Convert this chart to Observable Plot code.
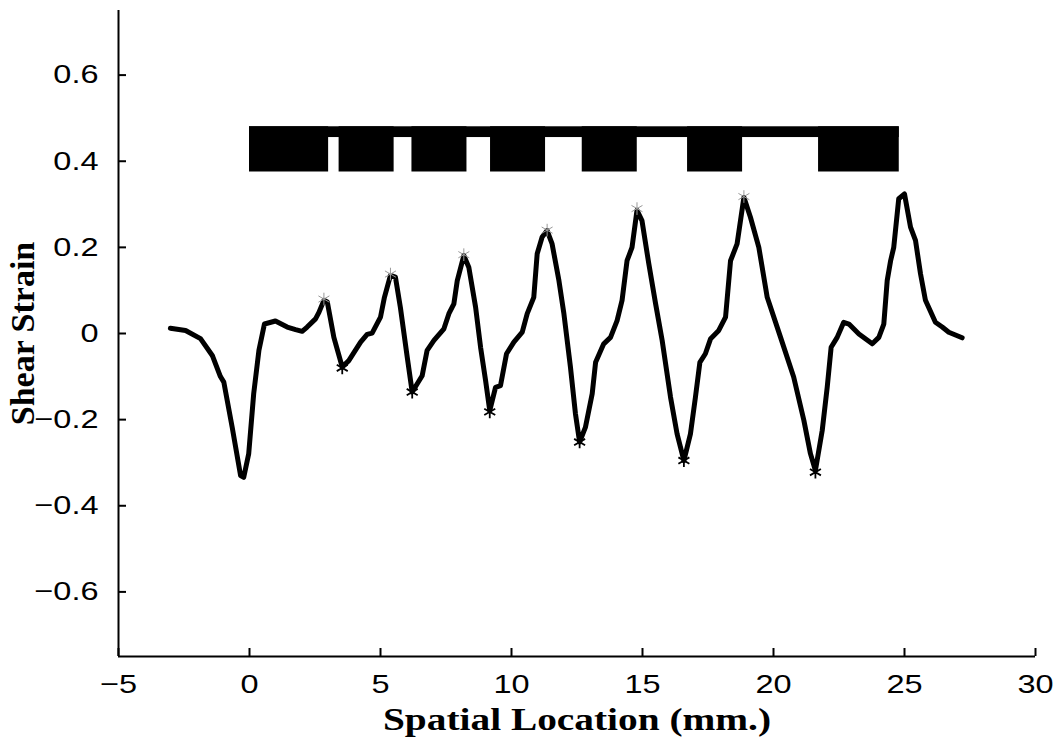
<!DOCTYPE html>
<html>
<head>
<meta charset="utf-8">
<script src="https://cdn.jsdelivr.net/npm/d3@7"></script>
<script src="https://cdn.jsdelivr.net/npm/@observablehq/plot@0.6"></script>
<style>
  html, body { margin: 0; padding: 0; background: #fff; }
</style>
</head>
<body>
<div id="chart"></div>
<script>
// Strain profile (mm, shear strain)
const locX = [-3.02,-2.44,-1.87,-1.42,-1.11,-0.98,-0.66,-0.34,-0.22,-0.03,0.16,0.36,0.57,0.99,1.44,1.76,2.01,2.20,2.52,2.65,2.84,2.97,3.22,3.54,3.79,4.24,4.49,4.68,5.0,5.15,5.38,5.57,5.76,6.02,6.21,6.59,6.78,7.04,7.42,7.61,7.80,7.93,8.18,8.37,8.63,8.82,9.01,9.17,9.39,9.58,9.81,10.09,10.41,10.60,10.85,10.98,11.17,11.36,11.55,11.81,12.0,12.25,12.44,12.60,12.82,13.08,13.21,13.52,13.78,14.03,14.22,14.41,14.60,14.79,14.98,15.24,15.50,15.75,16.07,16.32,16.58,16.83,17.02,17.19,17.40,17.60,17.91,18.17,18.36,18.61,18.74,18.87,19.12,19.44,19.76,20.27,20.77,21.16,21.41,21.60,21.86,22.05,22.20,22.43,22.68,22.88,23.26,23.77,24.02,24.21,24.34,24.47,24.59,24.78,25.0,25.23,25.42,25.61,25.80,26.18,26.44,26.69,27.20];
const strain = [0.012,0.007,-0.012,-0.051,-0.10,-0.113,-0.218,-0.330,-0.334,-0.279,-0.14,-0.039,0.022,0.029,0.015,0.009,0.005,0.015,0.034,0.049,0.077,0.073,-0.009,-0.078,-0.063,-0.020,-0.002,0.001,0.038,0.084,0.135,0.131,0.06,-0.055,-0.136,-0.098,-0.039,-0.016,0.011,0.046,0.069,0.123,0.181,0.154,0.061,-0.032,-0.109,-0.179,-0.125,-0.121,-0.047,-0.020,0.003,0.046,0.084,0.185,0.224,0.239,0.208,0.123,0.046,-0.078,-0.186,-0.252,-0.218,-0.14,-0.067,-0.024,-0.009,0.030,0.077,0.169,0.200,0.286,0.262,0.162,0.069,-0.016,-0.148,-0.233,-0.295,-0.233,-0.148,-0.067,-0.047,-0.012,0.007,0.038,0.169,0.208,0.262,0.316,0.270,0.200,0.084,-0.009,-0.101,-0.202,-0.279,-0.318,-0.225,-0.125,-0.032,-0.009,0.026,0.022,-0.001,-0.024,-0.009,0.022,0.123,0.169,0.200,0.313,0.324,0.247,0.216,0.139,0.077,0.026,0.015,0.003,-0.010];

// Detected extrema
const peakX = [2.84, 5.38, 8.18, 11.36, 14.79, 18.87];
const peakY = [0.080, 0.138, 0.183, 0.240, 0.290, 0.318];
const troughX = [3.54, 6.21, 9.17, 12.60, 16.58, 21.60];
const troughY = [-0.080, -0.136, -0.182, -0.252, -0.295, -0.322];

// Electrode pattern (top bar)
const stripStart = 0, stripEnd = 24.8, stripLow = 0.455, stripHigh = 0.48;
const blockStart = [0, 3.42, 6.2, 9.2, 12.7, 16.72, 21.72];
const blockEnd   = [3.02, 5.52, 8.3, 11.3, 14.8, 18.82, 24.8];
const blockLow = 0.375, blockHigh = 0.48;

const xTicks = [-5, 0, 5, 10, 15, 20, 25, 30];
const yTicks = [-0.6, -0.4, -0.2, 0, 0.2, 0.4, 0.6];
const xLabel = "Spatial Location (mm.)";
const yLabel = "Shear Strain";

const curve = locX.map((x, i) => ({x, y: strain[i]}));
const peaks = peakX.map((x, i) => ({x, y: peakY[i]}));
const troughs = troughX.map((x, i) => ({x, y: troughY[i]}));
const blocks = blockStart.map((s, i) => ({x1: s, x2: blockEnd[i], y1: blockLow, y2: blockHigh}));
const strip = [{x1: stripStart, x2: stripEnd, y1: stripLow, y2: stripHigh}];

const fmt = d => (d === 0 ? "0" : String(d)).replace("-", "\u2212");

const W = 1056, H = 738, mL = 118, mR = 21, mT = 10, mB = 82;
const tickLen = 8;

const chart = Plot.plot({
  width: W,
  height: H,
  marginLeft: mL,
  marginRight: mR,
  marginTop: mT,
  marginBottom: mB,
  style: {fontFamily: "'Liberation Sans', Arial, sans-serif", fontSize: "26px", background: "#fff", color: "#000"},
  x: {domain: [-5, 30]},
  y: {domain: [-0.75, 0.75]},
  marks: [
    Plot.rect(strip, {x1: "x1", x2: "x2", y1: "y1", y2: "y2", fill: "black"}),
    Plot.rect(blocks, {x1: "x1", x2: "x2", y1: "y1", y2: "y2", fill: "black"}),
    Plot.line(curve, {x: "x", y: "y", stroke: "black", strokeWidth: 5, strokeLinejoin: "round", strokeLinecap: "round"}),
    Plot.dot(peaks, {x: "x", y: "y", symbol: "asterisk", r: 6, stroke: "#999", strokeWidth: 1}),
    Plot.dot(troughs, {x: "x", y: "y", symbol: "asterisk", r: 6, stroke: "black", strokeWidth: 1.8}),
    Plot.ruleX([-5], {stroke: "black", strokeWidth: 2}),
    Plot.ruleY([-0.75], {stroke: "black", strokeWidth: 2}),
    // inward ticks
    Plot.tickX(xTicks, {x: d => d, stroke: "black", strokeWidth: 2, insetTop: (H - mT - mB) - tickLen}),
    Plot.tickY(yTicks, {y: d => d, stroke: "black", strokeWidth: 2, insetRight: (W - mL - mR) - tickLen}),
    // tick labels
    Plot.axisX(xTicks, {tickSize: 0, tickPadding: 18, tickFormat: fmt, label: null, fontSize: 26}),
    Plot.axisY(yTicks, {tickSize: 0, tickPadding: 20, tickFormat: fmt, label: null, fontSize: 26}),
    // axis titles
    Plot.text([xLabel], {frameAnchor: "bottom", dy: 64, text: d => d, fontFamily: "'Liberation Serif', 'Times New Roman', serif", fontWeight: "bold", fontSize: 31, lineAnchor: "middle", textAnchor: "middle"}),
    Plot.text([yLabel], {frameAnchor: "left", dx: -95, rotate: -90, text: d => d, fontFamily: "'Liberation Serif', 'Times New Roman', serif", fontWeight: "bold", fontSize: 34, lineAnchor: "middle", textAnchor: "middle"})
  ]
});
document.getElementById("chart").appendChild(chart);

// horizontal stretch of tick labels to match original glyph proportions
d3.select(chart).selectAll("g[aria-label='x-axis tick label'] text, g[aria-label='y-axis tick label'] text")
  .attr("transform", function() { return (this.getAttribute("transform") || "") + " scale(1.25,1)"; });
d3.select(chart).selectAll("text")
  .filter(function() { return this.textContent === xLabel; })
  .attr("transform", function() { return (this.getAttribute("transform") || "") + " scale(1.27,1)"; });
</script>
</body>
</html>
